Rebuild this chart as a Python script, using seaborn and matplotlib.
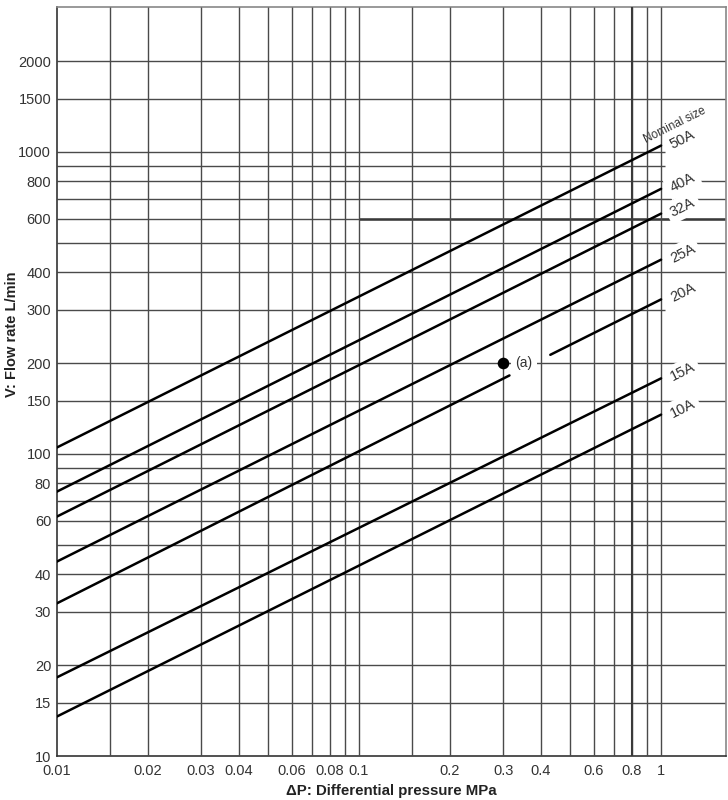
import numpy as np
import pandas as pd
import matplotlib
matplotlib.use("Agg")
import matplotlib.pyplot as plt
import seaborn as sns

# ---------------- data ----------------
seg_size = ["50A", "40A", "32A", "25A", "20A", "20A", "15A", "10A"]
seg_dp_start = [0.01, 0.01, 0.01, 0.01, 0.01, 0.43, 0.01, 0.01]
seg_dp_end = [1.0, 1.0, 1.0, 1.0, 0.315, 1.0, 1.0, 1.0]
seg_flow_start = [105, 75, 62, 44, 32, 213, 18.2, 13.5]
seg_flow_end = [1050, 755, 625, 440, 182, 325, 178, 135]

label_sizes = ["50A", "40A", "32A", "25A", "20A", "15A", "10A"]
label_flow_at_1 = [1050, 755, 625, 440, 325, 178, 135]

point_dp = [0.3]
point_flow = [200]
point_label = "(a)"

xtick_vals = [0.01, 0.02, 0.03, 0.04, 0.06, 0.08, 0.1, 0.2, 0.3, 0.4, 0.6, 0.8, 1]
xtick_labels = ["0.01", "0.02", "0.03", "0.04", "0.06", "0.08", "0.1",
                "0.2", "0.3", "0.4", "0.6", "0.8", "1"]
ytick_vals = [10, 15, 20, 30, 40, 60, 80, 100, 150, 200, 300, 400, 600, 800,
              1000, 1500, 2000]
ytick_labels = [str(v) for v in ytick_vals]

vgrid = [0.015, 0.02, 0.03, 0.04, 0.05, 0.06, 0.07, 0.08, 0.09, 0.1,
         0.15, 0.2, 0.3, 0.4, 0.5, 0.6, 0.7, 0.8, 0.9, 1.0]
hgrid = [15, 20, 30, 40, 50, 60, 70, 80, 90, 100, 150, 200, 300, 400, 500,
         600, 700, 800, 900, 1000, 1500, 2000]
hgrid_short = [300, 900, 1000]   # these stop at 1 MPa

xlabel = "ΔP: Differential pressure MPa"
ylabel = "V: Flow rate L/min"

# ---------------- build table ----------------
rows = []
for i, s in enumerate(seg_size):
    rows.append(dict(seg=i, size=s, dp=seg_dp_start[i], flow=seg_flow_start[i]))
    rows.append(dict(seg=i, size=s, dp=seg_dp_end[i], flow=seg_flow_end[i]))
df = pd.DataFrame(rows)

# ---------------- figure ----------------
sns.set_theme(style="white")
plt.rcParams["font.family"] = ["Liberation Sans", "DejaVu Sans"]

fig = plt.figure(figsize=(7.28, 8.0), dpi=100)
ax = fig.add_axes([56.7 / 728, 1 - 756 / 800, (726 - 56.7) / 728, (756 - 7) / 800])
ax.set_xscale("log")
ax.set_yscale("log")
XMAX, YMAX = 1.64, 3020
ax.set_xlim(0.01, XMAX)
ax.set_ylim(10, YMAX)

gcol = "#4a4a4a"
for y in hgrid:
    xr = 1.03 if y in hgrid_short else XMAX
    ax.hlines(y, 0.01, xr, color=gcol, lw=1.0, zorder=1)
ax.hlines(600, 0.1, XMAX, color="#3a3a3a", lw=1.8, zorder=1)
for x in vgrid:
    ax.vlines(x, 10, YMAX, color=gcol, lw=1.0, zorder=4)
ax.vlines(0.8, 10, YMAX, color="#3a3a3a", lw=1.5, zorder=4)

sns.lineplot(data=df, x="dp", y="flow", units="seg", estimator=None,
             color="black", lw=1.8, legend=False, sort=False, ax=ax, zorder=5)
sns.scatterplot(x=point_dp, y=point_flow, color="black", s=70, ax=ax,
                zorder=6, edgecolor="black", linewidth=0)
ax.text(0.33, 200, point_label, ha="left", va="center", fontsize=10,
        color="#333333", zorder=3,
        bbox=dict(facecolor="white", edgecolor="none", pad=3))

# rotation angle of slope-0.5 lines in display space
fig.canvas.draw()
p0 = ax.transData.transform((0.01, 100))
p1 = ax.transData.transform((1.0, 1000))
ang = np.degrees(np.arctan2(p1[1] - p0[1], p1[0] - p0[0]))

for s, v in zip(label_sizes, label_flow_at_1):
    ax.text(1.18, v * 1.05, s, ha="center", va="center", rotation=ang,
            rotation_mode="anchor", fontsize=10.5, color="#333333", zorder=3,
            bbox=dict(facecolor="white", edgecolor="none", pad=3))
ax.text(1.115, 1228, "Nominal size", ha="center", va="center", rotation=ang,
        rotation_mode="anchor", fontsize=8.5, color="#333333", zorder=3,
        bbox=dict(facecolor="white", edgecolor="none", pad=2))

ax.set_xticks(xtick_vals)
ax.set_xticklabels(xtick_labels)
ax.set_yticks(ytick_vals)
ax.set_yticklabels(ytick_labels)
ax.minorticks_off()
ax.tick_params(axis="both", length=0, labelsize=10.5, colors="#333333")
ax.tick_params(axis="x", pad=6)
ax.tick_params(axis="y", pad=4)

for side in ["left", "bottom"]:
    ax.spines[side].set_color("#333333")
    ax.spines[side].set_linewidth(1.2)
for side in ["top", "right"]:
    ax.spines[side].set_color("#888888")
    ax.spines[side].set_linewidth(1.2)

ax.set_xlabel(xlabel, fontsize=10.8, fontweight="bold", color="#222222")
ax.set_ylabel(ylabel, fontsize=10.5, fontweight="bold", color="#222222")
ax.xaxis.set_label_coords(0.5, -0.038)
ax.yaxis.set_label_coords(-0.056, 0.563)

fig.savefig("out.png", dpi=100, facecolor="white")
